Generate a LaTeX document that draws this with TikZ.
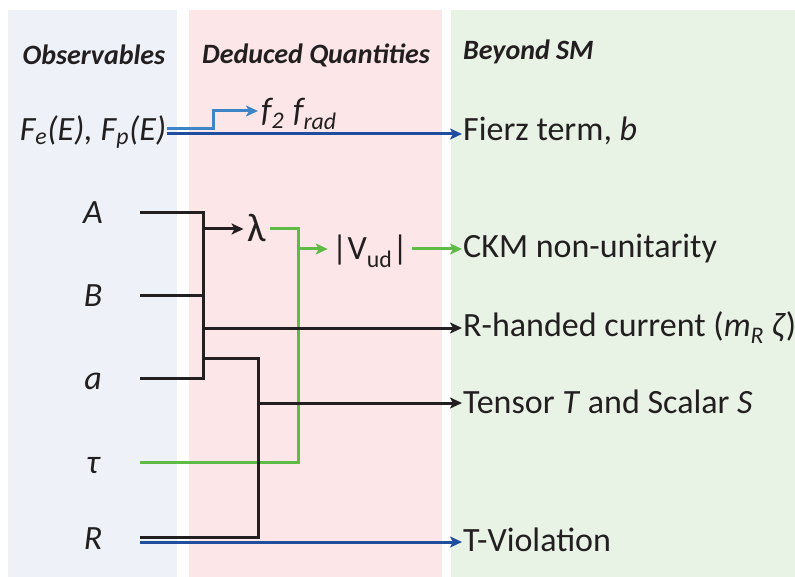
\documentclass[tikz,border=0pt]{standalone}
\usepackage{fontspec}
\setmainfont{Carlito}
\usetikzlibrary{arrows.meta}

\definecolor{obsbg}{HTML}{EEF2F8}
\definecolor{dedbg}{HTML}{FCE6E7}
\definecolor{bsmbg}{HTML}{E8F3E5}
\definecolor{txt}{HTML}{231F20}
\definecolor{lblue}{HTML}{3D85C6}
\definecolor{dblue}{HTML}{1F4E9E}
\definecolor{grn}{HTML}{5DBB46}

\tikzset{
  lbl/.style={font=\fontsize{34}{40}\selectfont, text=txt, inner sep=2pt, text height=22pt, text depth=0pt},
  head/.style={font=\fontsize{28}{32}\selectfont\bfseries\itshape, text=txt, inner sep=0pt},
  obs/.style={lbl, font=\fontsize{34}{40}\selectfont\itshape, minimum width=94pt, inner sep=0pt},
  bsm/.style={lbl, anchor=west, inner sep=1pt},
  wire/.style={line width=3pt},
  arr/.style={-{Stealth[length=12pt,width=11pt,inset=3pt]}}
}

\begin{document}
\begin{tikzpicture}[x=1pt,y=-1pt]
  \useasboundingbox (0,0) rectangle (795,577);
  % panels
  \fill[obsbg] (8,10) rectangle (177,577);
  \fill[dedbg] (189,10) rectangle (442,577);
  \fill[bsmbg] (451,10) rectangle (795,577);

  \node[head] (hobs) at (94,55) {Observables};
  \node[head] (hded) at (316,55) {Deduced Quantities};
  \node[head, anchor=west] (hbsm) at (463,52) {Beyond SM};

  % observables
  \node[lbl, font=\fontsize{34}{40}\selectfont\itshape, inner sep=1pt] (fefp) at (93,130) {F\textsubscript{e}(E), F\textsubscript{p}(E)};
  \node[obs] (A) at (93,213) {A};
  \node[obs] (B) at (93,296) {B};
  \node[obs] (a) at (93,378) {a};
  \node[obs] (tau) at (93,462) {τ};
  \node[obs] (R) at (93,538) {R};

  % deduced quantities
  \node[lbl, anchor=west, font=\fontsize{34}{40}\selectfont\itshape, inner sep=3pt] (f2) at (258,111) {f\textsubscript{2}\hspace{9pt}f\textsubscript{rad}};
  \node[lbl, font=\fontsize{40}{44}\selectfont, inner sep=4pt] (lambda) at (257,231) {λ};
  \node[lbl, inner sep=4pt] (vud) at (370,249) {|V\textsubscript{ud}|};

  % beyond SM
  \node[bsm] (fierz) at (462,130) {Fierz term, \textit{b}};
  \node[bsm] (ckm) at (462,247) {CKM non-unitarity};
  \node[bsm] (rcur) at (462,326) {R-handed current (\textit{m\textsubscript{R} ζ})};
  \node[bsm] (tens) at (462,402) {Tensor \textit{T} and Scalar \textit{S}};
  \node[bsm] (tviol) at (462,540) {T-Violation};

  \coordinate (jx) at (203,0);
  \coordinate (gx) at (298,0);
  \coordinate (kt) at (258,358);

  % spectra
  \draw[wire, lblue, arr] ([yshift=1pt]fefp.east) -- ++(46,0) |- (f2.west);
  \draw[wire, dblue, arr] ([yshift=-4pt]fefp.east) -- ([yshift=-4pt]fefp.east -| fierz.west);

  % green: lambda, tau -> Vud
  \draw[wire, grn] (lambda.east |- 0,229) -| (gx |- tau.east) -- (tau.east);
  \draw[wire, grn, arr] (gx |- vud) -- (vud.west);
  \draw[wire, grn, arr] (vud.east) -- (vud.east -| ckm.west);

  % correlations
  \draw[wire, txt] (A.east) -| (jx |- a.east) -- (a.east);
  \draw[wire, txt] (B.east) -- (jx |- B.east);
  \draw[wire, txt, arr] (jx |- 0,229) -- (lambda.west |- 0,229);
  \draw[wire, txt, arr] (jx |- 0,328) -- (rcur.west |- 0,328);
  \draw[wire, txt] (jx |- kt) -- (kt) |- ([yshift=1pt]R.east);
  \draw[wire, txt, arr] (kt |- 0,403) -- (tens.west |- 0,403);
  \draw[wire, dblue, arr] ([yshift=-4pt]R.east) -- ([yshift=-4pt]R.east -| tviol.west);
\end{tikzpicture}
\end{document}
